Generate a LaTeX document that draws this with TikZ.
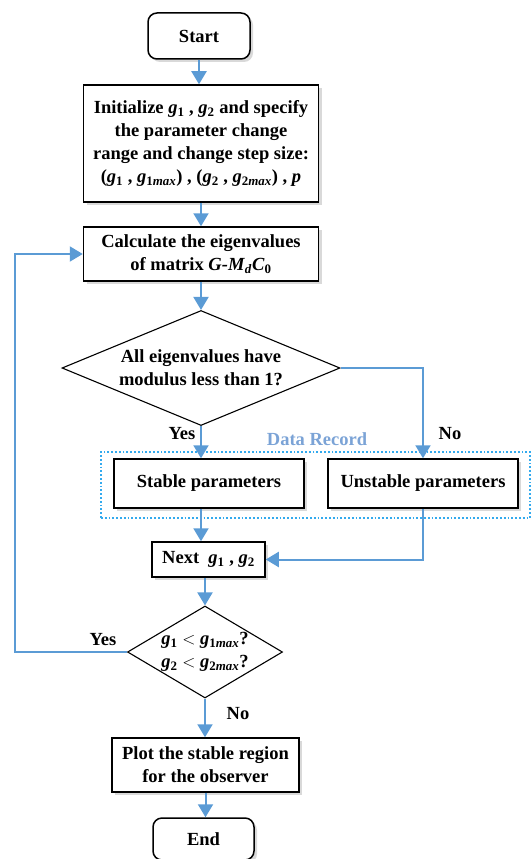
\documentclass[tikz,border=0pt]{standalone}
\usepackage{fontspec}
\setmainfont{Liberation Serif}
\usetikzlibrary{arrows.meta,shapes.geometric,shadows}
\definecolor{flowblue}{HTML}{5B9BD5}
\definecolor{recblue}{HTML}{7BA3D6}
\definecolor{dotblue}{HTML}{33AAEE}
\newcommand{\gsub}[1]{\textit{g}\textsubscript{#1}}
\newcommand{\gmax}[1]{\textit{g}\textsubscript{#1\textit{max}}}
\begin{document}
\begin{tikzpicture}[x=1pt,y=-1pt,
  font=\fontsize{18.5}{23}\selectfont\bfseries,
  box/.style={draw,line width=1.5pt,fill=white,align=center,inner sep=0pt,
    drop shadow={shadow xshift=3pt,shadow yshift=-3pt,opacity=.15,fill=black}},
  term/.style={box,rounded corners=9pt},
  decision/.style={diamond,draw,line width=1.1pt,fill=white,align=center,inner sep=0pt},
  flow/.style={draw=flowblue,line width=2pt,-{Triangle[width=15pt,length=13pt]}},
  link/.style={draw=flowblue,line width=2pt}]
\useasboundingbox (0,0) rectangle (532,859);
% data record frame
\node[draw=dotblue,dotted,line width=1.8pt,minimum width=429pt,minimum height=66pt] (rec) at (315.5,485) {};
\node[text=recblue] (reclabel) at (317,439) {Data Record};
% boxes
\node[term,minimum width=102pt,minimum height=46pt] (start) at (199,36) {Start};
\node[box,minimum width=235pt,minimum height=117pt] (init) at (201,143.5)
  {Initialize \gsub{1} , \gsub{2} and specify\\the parameter change\\range and change step size:\\(\gsub{1} , \gmax{1}) , (\gsub{2} , \gmax{2}) , \textit{p}};
\node[box,minimum width=235pt,minimum height=54pt] (calc) at (201,254)
  {Calculate the eigenvalues\\of matrix \textit{G-M}\textsubscript{\textit{d}}\textit{C}\textsubscript{0}};
\node[decision,aspect=2.42,minimum width=278pt,minimum height=115pt] (dec1) at (201,368)
  {All eigenvalues have\\modulus less than 1?};
\node[box,minimum width=190pt,minimum height=49pt] (stab) at (209,483.5) {Stable parameters};
\node[box,minimum width=190pt,minimum height=49pt] (unst) at (423,483.5) {Unstable parameters};
\node[box,minimum width=113pt,minimum height=35pt] (next) at (208.5,559.5) {Next \ \gsub{1} , \gsub{2}};
\node[decision,aspect=1.68,minimum width=155pt,minimum height=92pt,inner sep=-6pt] (dec2) at (205,652)
  {\gsub{1} $<$ \gmax{1}?\\\gsub{2} $<$ \gmax{2}?};
\node[box,minimum width=187pt,minimum height=54pt] (plot) at (205.5,765)
  {Plot the stable region\\for the observer};
\node[term,minimum width=101pt,minimum height=42pt] (finish) at (203.5,839) {End};
% labels
\node (yes1) at (182,434) {Yes};
\node (no1) at (450,434) {No};
\node (yes2) at (103,640) {Yes};
\node (no2) at (238,714) {No};
\coordinate (loop) at (15,652);
% connectors
\draw[flow] (start) -- (start |- init.north);
\draw[flow] (init) -- (calc);
\draw[flow] (calc) -- (dec1);
\draw[flow] (dec1.south) -- (dec1.south |- stab.north);
\draw[flow] (dec1.east) -| (unst.north);
\draw[flow] (stab.south -| dec1.south) -- (next.north -| dec1.south);
\draw[flow] (unst.south) |- (next.east);
\draw[flow] (dec2.north |- next.south) -- (dec2.north);
\draw[flow] (dec2.west) -- (loop) |- (calc.west);
\draw[flow] (dec2.south) -- (dec2.south |- plot.north);
\draw[flow] (plot.south) -- (plot.south |- finish.north);
\end{tikzpicture}
\end{document}
